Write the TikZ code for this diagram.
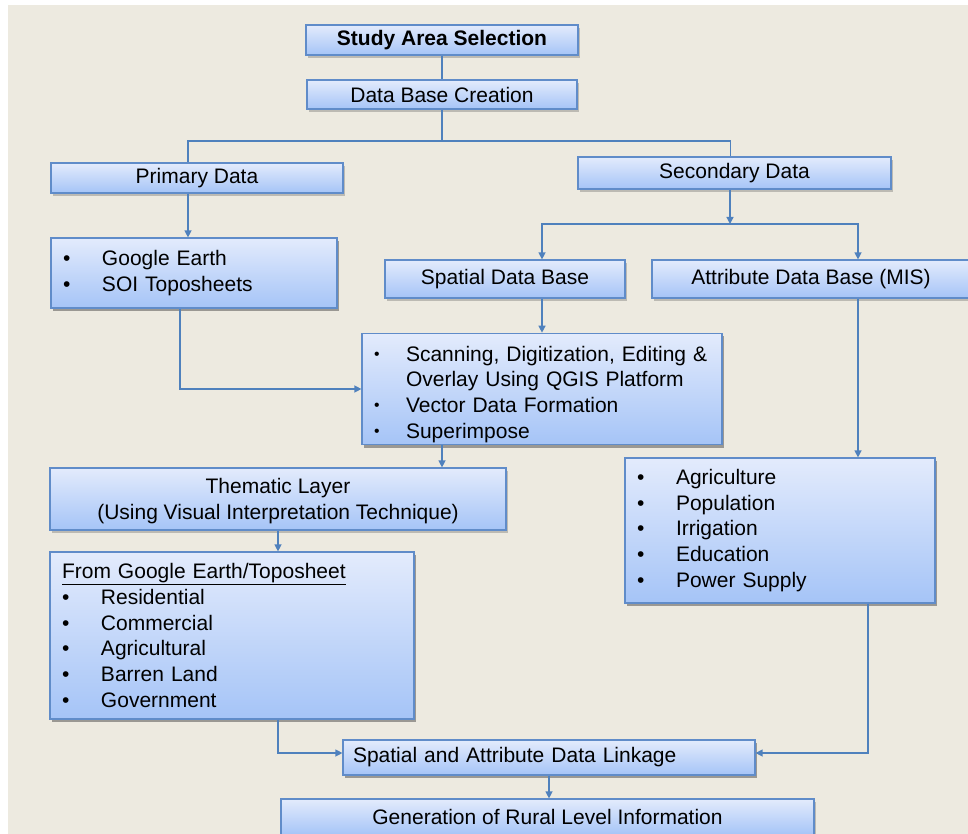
\documentclass[tikz,border=0pt]{standalone}
\usepackage{fontspec}
\setmainfont{Liberation Sans}
\usetikzlibrary{arrows.meta,shadows}

\definecolor{paper}{RGB}{237,234,224}
\definecolor{boxtop}{RGB}{227,235,252}
\definecolor{boxbot}{RGB}{165,196,247}
\definecolor{boxline}{RGB}{96,140,201}
\definecolor{wire}{RGB}{79,129,189}

\newcommand{\bitem}[1]{\makebox[39pt][l]{\textbullet}#1}
\newcommand{\sitem}[1]{\makebox[32pt][l]{\raisebox{0.08em}{\scalebox{0.75}{\textbullet}}}#1}

\tikzset{
  flowbox/.style={rectangle,draw=boxline,line width=1.2pt,
    top color=boxtop,bottom color=boxbot,
    drop shadow={shadow xshift=2pt,shadow yshift=-3pt,opacity=0.3,fill=black!70},
    font=\fontsize{21}{25.7}\selectfont,inner ysep=2pt},
  listbox/.style={flowbox,align=left,inner xsep=12pt},
  hv/.style={to path={-| (\tikztotarget)}},
  vh/.style={to path={|- (\tikztotarget)}}
}

\begin{document}
\begin{tikzpicture}[x=1pt,y=-1pt]
        \useasboundingbox (0,0) rectangle (968,834);
        \fill[white] (0,0) rectangle (968,834);
        \fill[paper] (8,5) rectangle (968,834);
        \begin{scope}
            \begin{scope}[every node/.style={flowbox}]
              \node[minimum width=272pt,minimum height=30pt,font=\fontsize{21}{25.7}\selectfont\bfseries] (study) at (442,40) {Study Area Selection};
              \node[minimum width=270pt,minimum height=29pt] (dbc) at (442,94.5) {Data Base Creation};
              \node[minimum width=292pt,minimum height=30pt] (primary) at (197,178) {Primary Data};
              \node[minimum width=313pt,minimum height=32pt] (secondary) at (734.5,173) {Secondary Data};
              \node[listbox,text width=262pt,minimum height=70pt] (google) at (194,273)
                {\bitem{Google Earth}\\\bitem{SOI Toposheets}};
              \node[minimum width=240pt,minimum height=38pt] (spatial) at (505,279) {Spatial Data Base};
              \node[minimum width=318pt,minimum height=38pt] (attribute) at (811,279) {Attribute Data Base (MIS)};
              \node[listbox,text width=336pt,minimum height=110pt] (scan) at (542,389)
                {\rule{0pt}{26pt}\sitem{Scanning, Digitization, Editing \&}\\\hspace*{32pt}Overlay Using QGIS Platform\\
                 \sitem{Vector Data Formation}\\\sitem{Superimpose}};
              \node[align=center,minimum width=456pt,minimum height=62pt] (thematic) at (278,499)
                {\rule{0pt}{20pt}Thematic Layer\\(Using Visual Interpretation Technique)};
              \node[listbox,text width=286pt,minimum height=145pt] (agri) at (780,530.5)
                {\bitem{Agriculture}\\\bitem{Population}\\\bitem{Irrigation}\\\bitem{Education}\\\bitem{Power Supply}};
              \node[listbox,text width=340pt,minimum height=167pt] (fromge) at (232,635.5)
                {\underline{From Google Earth/Toposheet}\\\bitem{Residential}\\\bitem{Commercial}\\
                 \bitem{Agricultural}\\\bitem{Barren Land}\\\bitem{Government}};
              \node[listbox,inner xsep=10pt,text width=392pt,minimum height=35pt] (link) at (549,757.5)
                {Spatial and Attribute Data Linkage};
              \node[minimum width=533pt,minimum height=36pt] (gen) at (547.5,817) {Generation of Rural Level Information};
            \end{scope}
            \coordinate (split1) at (442,141);
            \coordinate (split2) at (730,224);
            \begin{scope}[every edge/.style={draw=wire,line width=1.3pt,-{Triangle[length=7pt,width=7pt]}}]
                \path (study.south) edge[-] (dbc.north)
                      (dbc.south) edge[-] (split1)
                      (split1) edge[-,hv] ([xshift=-9pt]primary.north)
                      (split1) edge[-,hv] ([xshift=-4pt]secondary.north)
                      ([xshift=-9pt]primary.south) edge ([xshift=-9pt]primary.south |- google.north)
                      (secondary.south -| split2) edge (split2)
                      (split2) edge[hv] (spatial.north -| scan.north)
                      (split2) edge[hv] ([xshift=47pt]attribute.north)
                      (scan.north |- spatial.south) edge (scan.north)
                      ([xshift=-14pt]google.south) edge[vh] (scan.west)
                      (scan.south -| dbc.south) edge (thematic.north -| dbc.south)
                      ([xshift=47pt]attribute.south) edge ([xshift=47pt]attribute.south |- agri.north)
                      (thematic.south) edge (thematic.south |- fromge.north)
                      (fromge.south -| thematic.south) edge[vh] ([yshift=4.5pt]link.west)
                      ([xshift=88pt]agri.south) edge[vh] ([yshift=4.5pt]link.east)
                      (link.south) edge (link.south |- gen.north);
            \end{scope}
        \end{scope}
    \end{tikzpicture}
\end{document}
